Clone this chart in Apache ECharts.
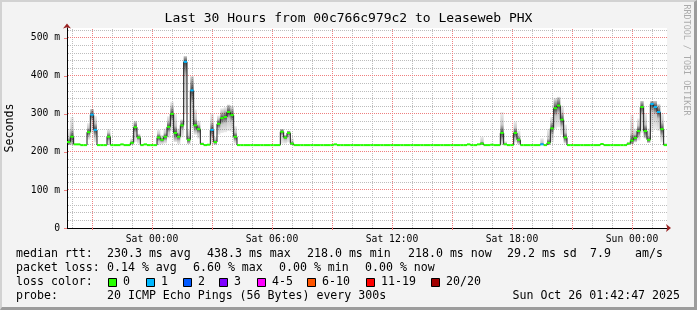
<!DOCTYPE html>
<html><head><meta charset="utf-8">
<script src="https://cdn.jsdelivr.net/npm/echarts@6/dist/echarts.min.js"></script>
<style>
html,body{margin:0;padding:0;background:#f3f3f3;}
#wrap{position:relative;width:697px;height:310px;overflow:hidden;}
#chart{width:697px;height:310px;}
#frame{position:absolute;left:0;top:0;width:697px;height:310px;box-sizing:border-box;border-top:2px solid #d2d2d2;border-left:2px solid #d2d2d2;border-right:3px solid #9c9c9c;border-bottom:3px solid #9c9c9c;pointer-events:none;}
</style></head><body>
<div id="wrap"><div id="chart"></div><div id="frame"></div></div>
<script>
// ---------- data ----------
const titleText = 'Last 30 Hours from 00c766c979c2 to Leaseweb PHX';
// time axis in hours relative to Sat 00:00; 10-minute bins
const startHour = -4.25;
const endHour = 25.75;
const stepHours = 1 / 6;
const yMax = 526;

const minorHours = [-4,-2,-1,1,2,4,5,7,8,10,11,13,14,16,17,19,20,22,23,25];
const majorHours = [-3,0,3,6,9,12,15,18,21,24];
const labelHours = [0,6,12,18,24];
const labelTexts = ['Sat 00:00','Sat 06:00','Sat 12:00','Sat 18:00','Sun 00:00'];
const minorMs = [20,40,60,80,120,140,160,180,220,240,260,280,320,340,360,380,420,440,460,480,520];
const majorMs = [100,200,300,400,500];
const labelMs = [0,100,200,300,400,500];

// median rtt (ms) per 10-minute bin
const median = [
  226,240,220,220,218,218,252,298,258,218,218,218,240,218,218,218,220,218,
  218,224,265,238,218,220,218,218,218,238,232,240,266,300,250,240,270,437,
  232,362,270,260,221,218,219,258,226,274,289,292,305,297,240,218,218,218,
  218,218,218,218,218,218,218,218,218,218,253,238,250,222,218,218,218,218,
  218,218,218,218,218,218,218,218,220,218,218,218,218,218,218,218,218,218,
  218,218,218,218,218,218,218,218,218,218,218,218,218,218,218,218,218,218,
  218,218,218,218,218,218,218,218,218,218,218,218,220,218,218,220,222,218,
  218,219,218,218,250,220,218,218,250,232,218,218,218,218,218,218,220,218,
  224,262,315,322,285,238,218,218,218,218,218,218,218,218,218,218,221,218,
  218,218,218,218,218,218,222,230,237,255,318,255,232,326,318,305,260,218
];
// lost packets per bin (out of 20)
const loss = [
  0,0,0,0,0,0,0,1,1,0,0,0,0,0,0,0,0,0,
  0,0,0,0,0,0,0,0,0,0,0,0,0,0,0,0,0,1,
  0,1,0,0,0,0,0,1,0,0,0,0,0,0,0,0,0,0,
  0,0,0,0,0,0,0,0,0,0,0,0,0,0,0,0,0,0,
  0,0,0,0,0,0,0,0,0,0,0,0,0,0,0,0,0,0,
  0,0,0,0,0,0,0,0,0,0,0,0,0,0,0,0,0,0,
  0,0,0,0,0,0,0,0,0,0,0,0,0,0,0,0,0,0,
  0,0,0,0,0,0,0,0,0,0,0,0,0,0,0,0,1,0,
  0,0,0,0,0,0,0,0,0,0,0,0,0,0,0,0,0,0,
  0,0,0,0,0,0,0,0,0,0,0,0,0,1,1,1,0,0
];
// smoke spread (ms): lowest / highest ping per bin, null = no spread visible
const smokeLo = [
  218,218,null,null,null,null,232,250,225,null,null,null,218,null,null,null,null,null,
  null,218,226,222,null,null,null,null,null,218,220,222,236,255,226,220,238,300,
  220,262,245,235,218,null,null,222,218,245,250,252,255,252,222,null,null,null,
  null,null,null,null,null,null,null,null,null,null,222,222,225,218,null,null,null,null,
  null,null,null,null,null,null,null,null,null,null,null,null,null,null,null,null,null,null,
  null,null,null,null,null,null,null,null,null,null,null,null,null,null,null,null,null,null,
  null,null,null,null,null,null,null,null,null,null,null,null,null,null,null,null,218,null,
  null,null,null,null,218,218,null,null,225,220,null,null,null,null,null,null,218,null,
  218,225,260,265,245,222,null,null,null,null,null,null,null,null,null,null,null,null,
  null,null,null,null,null,null,218,220,225,230,250,235,224,252,260,255,225,218
];
const smokeHi = [
  260,292,null,null,null,null,276,313,295,null,null,null,260,null,null,null,null,null,
  null,236,282,248,null,null,null,null,null,258,245,262,294,332,300,262,286,452,
  258,400,312,282,226,null,null,302,240,296,315,318,325,322,268,null,null,null,
  null,null,null,null,null,null,null,null,null,null,260,245,256,236,null,null,null,null,
  null,null,null,null,null,null,null,null,null,null,null,null,null,null,null,null,null,null,
  null,null,null,null,null,null,null,null,null,null,null,null,null,null,null,null,null,null,
  null,null,null,null,null,null,null,null,null,null,null,null,null,null,null,null,240,null,
  null,null,null,null,305,228,null,null,280,256,null,null,null,null,null,null,236,null,
  260,292,342,345,322,272,null,null,null,null,null,null,null,null,null,null,null,null,
  null,null,null,null,null,null,226,298,262,288,334,302,262,334,334,326,302,224
];

const lossLabels = ['0','1','2','3','4-5','6-10','11-19','20/20'];
const lossColors = ['#26ff00','#00b8ff','#0059ff','#7e00ff','#ff00ff','#ff5500','#ff0000','#a10000'];
const lossThresholds = [0,1,2,3,5,10,19,20];

const rttStats = ['230.3 ms avg','438.3 ms max','218.0 ms min','218.0 ms now','29.2 ms sd','7.9','am/s'];
const lossStats = ['0.14 % avg','6.60 % max','0.00 % min','0.00 % now'];
const probeText = '20 ICMP Echo Pings (56 Bytes) every 300s';
const dateText = 'Sun Oct 26 01:42:47 2025';

// ---------- layout ----------
const rttX = [107,207,307,408,507,590,635];
const lossX = [107,193,279,365];
const swatchX = [108,146,183,219,257,307,366,431];
const lineY = [254,268,282,296];
const MONO = '"DejaVu Sans Mono", monospace';
const MINOR_COLOR = '#bdbdbd';
const MAJOR_COLOR = '#ee7f7f';

function lossColor(n){
  for (let k = 0; k < lossThresholds.length; k++) if (n <= lossThresholds[k]) return lossColors[k];
  return lossColors[lossColors.length-1];
}

const stepData = median.map((m, i) => [startHour + i*stepHours, m, i > 0 ? median[i-1] : m, loss[i]]);
const smokeData = [];
median.forEach((m, i) => { if (smokeHi[i] != null) smokeData.push([startHour + i*stepHours, smokeLo[i], smokeHi[i], m]); });

// grid line items: [value, orientation(0=vertical,1=horizontal), major?]
const gridData = [];
minorHours.forEach(h => gridData.push([h, 0, 0]));
minorMs.forEach(v => gridData.push([v, 1, 0]));
majorHours.forEach(h => gridData.push([h, 0, 1]));
majorMs.forEach(v => gridData.push([v, 1, 1]));

function txt(text, x, y, size, extra){
  return Object.assign({type:'text', x:x, y:y, silent:true,
    style:{text:text, font: size + 'px ' + MONO, fill:'#000',
      textAlign:'left', align:'left', textVerticalAlign:'middle', verticalAlign:'middle'}}, extra || {});
}

const graphics = [];
graphics.push(txt('median rtt:', 16, lineY[0], 11.6));
rttStats.forEach((s, k) => graphics.push(txt(s, rttX[k], lineY[0], 11.6)));
graphics.push(txt('packet loss:', 16, lineY[1], 11.6));
lossStats.forEach((s, k) => graphics.push(txt(s, lossX[k], lineY[1], 11.6)));
graphics.push(txt('loss color:', 16, lineY[2], 11.6));
lossLabels.forEach((s, k) => {
  graphics.push({type:'rect', silent:true, shape:{x:swatchX[k]+0.5, y:lineY[2]-3.5, width:8, height:8},
    style:{fill:lossColors[k], stroke:'#000', lineWidth:1}});
  graphics.push(txt(s, swatchX[k]+15, lineY[2], 11.6));
});
graphics.push(txt('probe:', 16, lineY[3], 11.6));
graphics.push(txt(probeText, 107, lineY[3], 11.6));
const dt = txt(dateText, 680, lineY[3], 11.6); dt.style.textAlign = 'right'; dt.style.align = 'right';
graphics.push(dt);
const sec = txt('Seconds', 10, 128, 11.6, {rotation: Math.PI/2});
sec.style.textAlign = 'center'; sec.style.align = 'center';
graphics.push(sec);
const rrd = txt('RRDTOOL / TOBI OETIKER', 686.5, 60, 8.4, {rotation: -Math.PI/2});
rrd.style.textAlign = 'center'; rrd.style.align = 'center'; rrd.style.fill = '#ababab';
graphics.push(rrd);

const chart = echarts.init(document.getElementById('chart'), null, {renderer:'canvas'});
chart.setOption({
  animation:false,
  backgroundColor:'#f3f3f3',
  title:{text:titleText, left:'center', top:12, padding:0,
    textStyle:{fontFamily:MONO, fontSize:13, fontWeight:'normal', color:'#000'}},
  grid:{left:67, top:28, width:600, height:200, show:true, backgroundColor:'#ffffff', borderWidth:0},
  xAxis:[
    {type:'value', min:startHour, max:endHour, position:'bottom',
      axisLine:{show:true, onZero:false, symbol:['none','arrow'], symbolSize:[6,5], symbolOffset:[0,4], lineStyle:{color:'#992222'}},
      axisTick:{show:false}, axisLabel:{show:false}, splitLine:{show:false}},
    {type:'value', min:startHour, max:endHour, position:'bottom',
      axisLine:{show:true, onZero:false, lineStyle:{color:'#000', width:1}},
      axisTick:{show:true, customValues:majorHours, length:2, lineStyle:{color:MAJOR_COLOR}},
      axisLabel:{show:true, customValues:labelHours, margin:6, color:'#000', fontFamily:MONO, fontSize:9.7,
        formatter:(v) => { const k = labelHours.indexOf(v); return k >= 0 ? labelTexts[k] : ''; }},
      splitLine:{show:false}}
  ],
  yAxis:[
    {type:'value', min:0, max:yMax, position:'left',
      axisLine:{show:true, onZero:false, symbol:['none','arrow'], symbolSize:[6,5], symbolOffset:[0,4.5], lineStyle:{color:'#992222'}},
      axisTick:{show:false}, axisLabel:{show:false}, splitLine:{show:false}},
    {type:'value', min:0, max:yMax, position:'left',
      axisLine:{show:true, onZero:false, lineStyle:{color:'#000', width:1}},
      axisTick:{show:true, customValues:labelMs, length:3, lineStyle:{color:MAJOR_COLOR}},
      axisLabel:{show:true, customValues:labelMs, margin:7, color:'#000', fontFamily:MONO, fontSize:9.7,
        formatter:(v) => v === 0 ? '0' : v + ' m'},
      splitLine:{show:false}}
  ],
  graphic:graphics,
  series:[
    {type:'custom', name:'grid', xAxisIndex:0, yAxisIndex:0, data:gridData, z:1, silent:true,
      renderItem:(params, api) => {
        const v = api.value(0), horiz = api.value(1), major = api.value(2);
        const style = {stroke: major ? MAJOR_COLOR : MINOR_COLOR, lineWidth:1, lineDash:[1,1]};
        if (horiz) {
          const a = api.coord([startHour, v]), b = api.coord([endHour, v]);
          const y = Math.floor(a[1]) + 0.5;
          return {type:'line', shape:{x1:a[0]+1, y1:y, x2:b[0], y2:y}, style:style};
        }
        const a = api.coord([v, 0]), b = api.coord([v, yMax]);
        const x = Math.floor(a[0]) + 0.5;
        return {type:'line', shape:{x1:x, y1:a[1], x2:x, y2:b[1]}, style:style};
      }},
    {type:'custom', name:'smoke', xAxisIndex:0, yAxisIndex:0, data:smokeData, z:3, silent:true,
      renderItem:(params, api) => {
        const t0 = api.value(0), lo = api.value(1), hi = api.value(2), m = api.value(3);
        const pHi = api.coord([t0, hi]), pLo = api.coord([t0, lo]), pEnd = api.coord([t0 + stepHours, lo]);
        let f = (hi - m) / Math.max(1, hi - lo); f = Math.max(0, Math.min(1, f));
        const stops = [
          {offset:0, color:'rgba(0,0,0,0.07)'},
          {offset:Math.max(0, f - 0.25), color:'rgba(0,0,0,0.22)'},
          {offset:f, color:'rgba(0,0,0,0.72)'},
          {offset:Math.min(1, f + 0.25), color:'rgba(0,0,0,0.22)'},
          {offset:1, color:'rgba(0,0,0,0.08)'}
        ];
        return {type:'rect', shape:{x:pHi[0], y:pHi[1], width:pEnd[0]-pHi[0], height:pLo[1]-pHi[1]},
          style:{fill:{type:'linear', x:0, y:0, x2:0, y2:1, colorStops:stops}}};
      }},
    {type:'custom', name:'steps', xAxisIndex:0, yAxisIndex:0, data:stepData, z:4, silent:true,
      renderItem:(params, api) => {
        const t0 = api.value(0), m = api.value(1), pm = api.value(2);
        const p = api.coord([t0, m]), q = api.coord([t0, pm]);
        return {type:'line', shape:{x1:p[0], y1:q[1], x2:p[0], y2:p[1]}, style:{stroke:'#1c1c1c', lineWidth:1}};
      }},
    {type:'custom', name:'median', xAxisIndex:0, yAxisIndex:0, data:stepData, z:5, silent:true,
      renderItem:(params, api) => {
        const t0 = api.value(0), m = api.value(1), n = api.value(3);
        const p0 = api.coord([t0, m]), p1 = api.coord([t0 + stepHours, m]);
        return {type:'line', shape:{x1:p0[0], y1:p0[1], x2:p1[0], y2:p1[1]}, style:{stroke:lossColor(n), lineWidth:2}};
      }}
  ]
});
</script>
</body></html>
